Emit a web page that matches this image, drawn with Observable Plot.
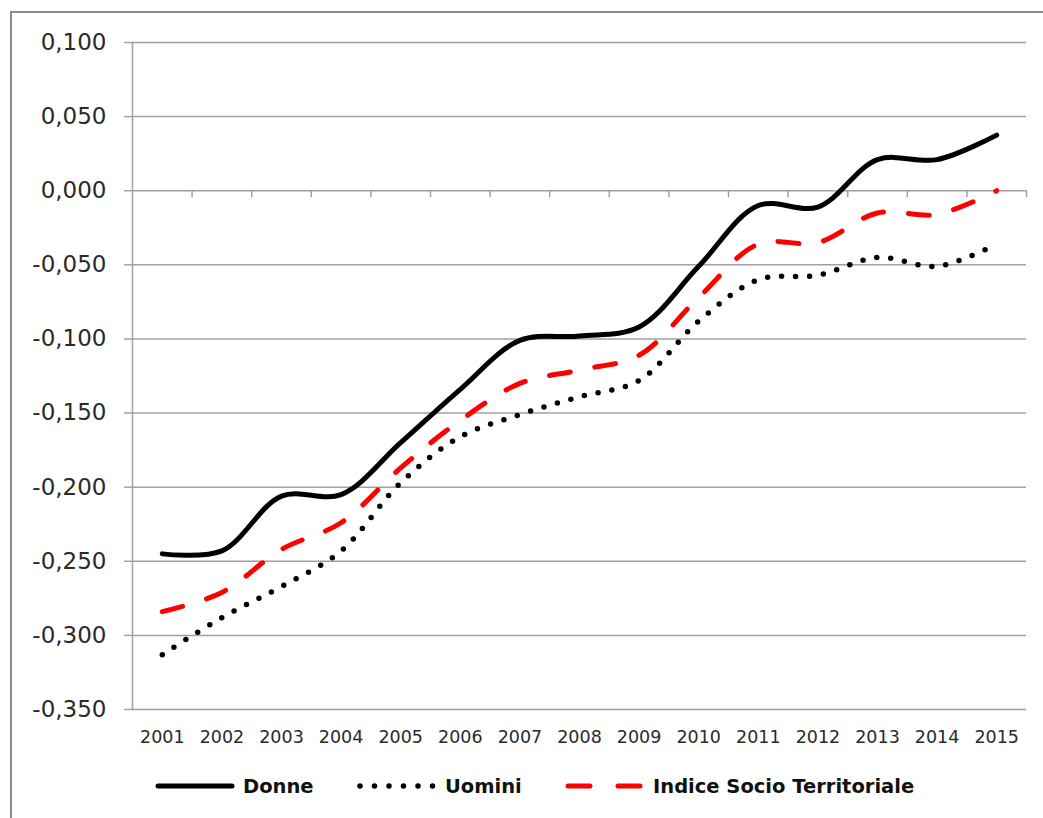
<!DOCTYPE html>
<html>
<head>
<meta charset="utf-8">
<script src="https://cdn.jsdelivr.net/npm/d3@7"></script>
<script src="https://cdn.jsdelivr.net/npm/@observablehq/plot@0.6"></script>
<style>
  html, body { margin: 0; padding: 0; background: #fff; }
  #wrap { position: relative; width: 1043px; height: 818px; overflow: hidden; }
  #frame { position: absolute; left: 10px; top: 11px; right: -10px; bottom: -10px;
           border-left: 2.5px solid #8a8a8a; border-top: 2.5px solid #8a8a8a; }
  #chart { position: absolute; left: 0; top: 0; }
  #legend { position: absolute; left: 0; top: 771px; width: 1043px; height: 30px;
            font-family: "DejaVu Sans", sans-serif; font-weight: bold; font-size: 19.5px; color: #111; }
  .item { position: absolute; top: 0; height: 30px; display: flex; align-items: center; }
  .item svg { margin-right: 8px; }
</style>
</head>
<body>
<div id="wrap">
  <div id="frame"></div>
  <div id="chart"></div>
  <div id="legend"></div>
</div>
<script>
const years = [2001, 2002, 2003, 2004, 2005, 2006, 2007, 2008, 2009, 2010, 2011, 2012, 2013, 2014, 2015];
const donne = [-0.245, -0.243, -0.206, -0.205, -0.170, -0.134, -0.101, -0.098, -0.092, -0.051, -0.010, -0.011, 0.021, 0.021, 0.0375];
const uomini = [-0.313, -0.288, -0.267, -0.243, -0.197, -0.166, -0.151, -0.139, -0.128, -0.088, -0.060, -0.057, -0.045, -0.051, -0.036];
const indice = [-0.284, -0.271, -0.242, -0.224, -0.187, -0.155, -0.130, -0.121, -0.111, -0.072, -0.036, -0.035, -0.015, -0.016, 0.000];
const yTicks = [0.1, 0.05, 0, -0.05, -0.1, -0.15, -0.2, -0.25, -0.3, -0.35];
const seriesNames = ["Donne", "Uomini", "Indice Socio Territoriale"];

const fmt = d => (d < -1e-9 ? "-" : "") + Math.abs(d).toFixed(3).replace(".", ",");
const rows = (vals, name) => years.map((y, i) => ({year: y, value: vals[i], series: name}));
const boundaries = [years[0] - 0.5, ...years.map(y => y + 0.5)];

const chart = Plot.plot({
  width: 1043,
  height: 760,
  marginLeft: 132,
  marginRight: 17,
  marginTop: 42,
  marginBottom: 51,
  style: {background: "transparent", fontFamily: "DejaVu Sans, sans-serif", color: "#333"},
  x: {type: "linear", domain: [years[0] - 0.5, years[years.length - 1] + 0.5]},
  y: {domain: [-0.35, 0.1]},
  marks: [
    Plot.ruleY(yTicks, {stroke: "#a0a0a0", strokeWidth: 1.5}),
    Plot.ruleX([boundaries[0]], {stroke: "#a0a0a0", strokeWidth: 1.5}),
    Plot.ruleX(boundaries.slice(1), {x: d => d, y1: 0, y2: 0, insetBottom: -7, stroke: "#a0a0a0", strokeWidth: 1.5}),
    Plot.axisY({ticks: yTicks, tickFormat: fmt, tickSize: 8, tickPadding: 18, fontSize: 23, stroke: "#a0a0a0", strokeWidth: 1.5, fill: "#2a2a2a", label: null}),
    Plot.axisX({ticks: years, tickFormat: d => String(d), tickSize: 0, tickPadding: 21, fontSize: 17.5, fill: "#2a2a2a", label: null}),
    Plot.line(rows(donne, seriesNames[0]), {x: "year", y: "value", stroke: "#000", strokeWidth: 5, curve: "catmull-rom", strokeLinecap: "round"}),
    Plot.line(rows(uomini, seriesNames[1]), {x: "year", y: "value", stroke: "#000", strokeWidth: 5.5, curve: "catmull-rom", strokeLinecap: "round", strokeDasharray: "0,14"}),
    Plot.line(rows(indice, seriesNames[2]), {x: "year", y: "value", stroke: "#ff0000", strokeWidth: 5, curve: "catmull-rom", strokeLinecap: "round", strokeDasharray: "21,25"})
  ]
});
document.getElementById("chart").appendChild(chart);

// Legend
const legendSpec = [
  {name: seriesNames[0], left: 158, stroke: "#000", dash: null, width: 5},
  {name: seriesNames[1], left: 360, stroke: "#000", dash: "0,14.5", width: 5.5},
  {name: seriesNames[2], left: 568, stroke: "#ff0000", dash: "22,28", width: 5}
];
const legend = document.getElementById("legend");
for (const s of legendSpec) {
  const item = document.createElement("div");
  item.className = "item";
  item.style.left = (s.left - 3) + "px";
  const ns = "http://www.w3.org/2000/svg";
  const svg = document.createElementNS(ns, "svg");
  svg.setAttribute("width", 80);
  svg.setAttribute("height", 14);
  const ln = document.createElementNS(ns, "line");
  ln.setAttribute("x1", 3); ln.setAttribute("x2", 77);
  ln.setAttribute("y1", 7); ln.setAttribute("y2", 7);
  ln.setAttribute("stroke", s.stroke);
  ln.setAttribute("stroke-width", s.width);
  ln.setAttribute("stroke-linecap", "round");
  if (s.dash) ln.setAttribute("stroke-dasharray", s.dash);
  svg.appendChild(ln);
  item.appendChild(svg);
  const t = document.createElement("span");
  t.textContent = s.name;
  item.appendChild(t);
  legend.appendChild(item);
}
</script>
</body>
</html>
